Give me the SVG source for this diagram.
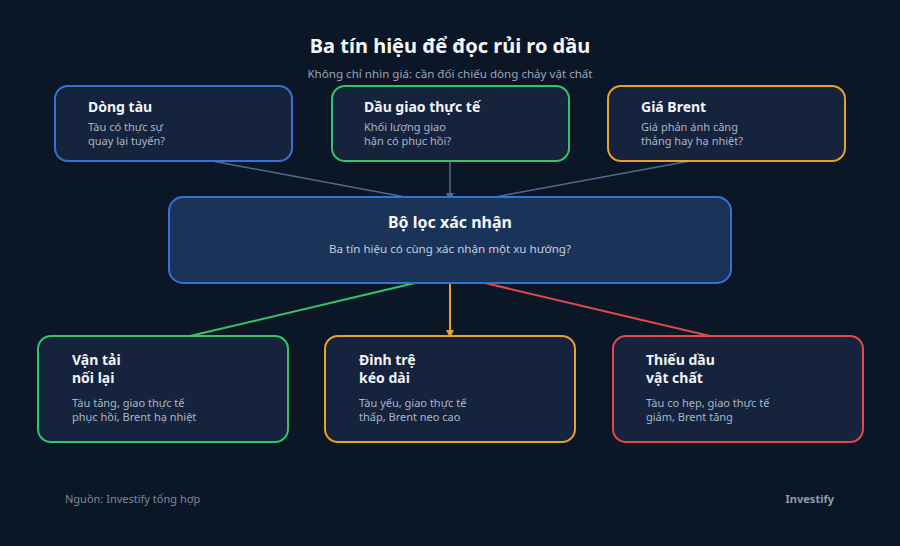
<svg xmlns="http://www.w3.org/2000/svg" width="900" height="546" viewBox="0 0 900 546">
<style>
text{font-family:"Noto Sans","DejaVu Sans",sans-serif}
.t{font-size:20px;font-weight:700;fill:#f4f6fa}
.st{font-size:11.6px;fill:#98a6b8}
.nt{font-size:14px;font-weight:700;fill:#f1f4f8}
.ns{font-size:11px;fill:#a9b6c6}
.box{fill:#15233d;stroke-width:2}
.ft{font-size:11px;fill:#7c8a9c}
.ftb{font-size:11px;font-weight:700;fill:#8e9cb0}
.c{fill:none;stroke-width:1.5}
</style>
<defs>
<marker id="ab" markerWidth="8" markerHeight="8" refX="4" refY="4" orient="auto" markerUnits="userSpaceOnUse"><path d="M0,0 L8,4 L0,8 z" fill="#4f6d8f"/></marker>
<marker id="ao" markerWidth="8" markerHeight="8" refX="6" refY="4" orient="auto" markerUnits="userSpaceOnUse"><path d="M0,0 L8,4 L0,8 z" fill="#e8a22a"/></marker>
</defs>
<rect width="900" height="546" fill="#0b1627"/>
<text class="t" x="450" y="53" text-anchor="middle">Ba tín hiệu để đọc rủi ro dầu</text>
<text class="st" x="450" y="78" text-anchor="middle">Không chỉ nhìn giá: cần đối chiếu dòng chảy vật chất</text>
<g id="connectors">
<line class="c" x1="212" y1="161" x2="405" y2="197" stroke="#4f6d8f"/>
<line class="c" x1="450" y1="161" x2="450" y2="197" stroke="#4f6d8f" marker-end="url(#ab)"/>
<line class="c" x1="690" y1="161" x2="495" y2="197" stroke="#4f6d8f"/>
<line x1="415" y1="283" x2="190" y2="336" stroke="#34c46a" stroke-width="2"/>
<line x1="450" y1="283" x2="450" y2="336" stroke="#e8a22a" stroke-width="2" marker-end="url(#ao)"/>
<line x1="485" y1="283" x2="710" y2="336" stroke="#e04a4f" stroke-width="2"/>
</g>
<g id="dong-tau">
<rect class="box" x="55" y="86" width="237" height="75" rx="13" stroke="#3572d8"/>
<text class="nt" x="88" y="112">Dòng tàu</text>
<text class="ns" x="88" y="131">Tàu có thực sự</text>
<text class="ns" x="88" y="145">quay lại tuyến?</text>
</g>
<g id="dau-giao">
<rect class="box" x="332" y="86" width="237" height="75" rx="13" stroke="#34c46a"/>
<text class="nt" x="364" y="112">Dầu giao thực tế</text>
<text class="ns" x="364" y="131">Khối lượng giao</text>
<text class="ns" x="364" y="145">hận có phục hồi?</text>
</g>
<g id="gia-brent">
<rect class="box" x="608" y="86" width="237" height="75" rx="13" stroke="#e8a22a"/>
<text class="nt" x="641" y="112">Giá Brent</text>
<text class="ns" x="641" y="131">Giá phản ánh căng</text>
<text class="ns" x="641" y="145">thẳng hay hạ nhiệt?</text>
</g>
<g id="bo-loc">
<rect x="169" y="197" width="562" height="86" rx="14" fill="#1a3459" stroke="#3572d8" stroke-width="2"/>
<text x="450" y="228" text-anchor="middle" style="font-size:16px;font-weight:700;fill:#f4f6fa">Bộ lọc xác nhận</text>
<text x="450" y="253" text-anchor="middle" style="font-size:11.6px;fill:#c3cfdd">Ba tín hiệu có cùng xác nhận một xu hướng?</text>
</g>
<g id="van-tai">
<rect class="box" x="38" y="336" width="250" height="106" rx="13" stroke="#34c46a"/>
<text class="nt" x="72" y="365">Vận tải</text>
<text class="nt" x="72" y="383">nối lại</text>
<text class="ns" x="72" y="407">Tàu tăng, giao thực tế</text>
<text class="ns" x="72" y="421">phục hồi, Brent hạ nhiệt</text>
</g>
<g id="dinh-tre">
<rect class="box" x="325" y="336" width="250" height="106" rx="13" stroke="#e8a22a"/>
<text class="nt" x="359" y="365">Đình trệ</text>
<text class="nt" x="359" y="383">kéo dài</text>
<text class="ns" x="359" y="407">Tàu yếu, giao thực tế</text>
<text class="ns" x="359" y="421">thấp, Brent neo cao</text>
</g>
<g id="thieu-dau">
<rect class="box" x="613" y="336" width="250" height="106" rx="13" stroke="#e04a4f"/>
<text class="nt" x="646" y="365">Thiếu dầu</text>
<text class="nt" x="646" y="383">vật chất</text>
<text class="ns" x="646" y="407">Tàu co hẹp, giao thực tế</text>
<text class="ns" x="646" y="421">giảm, Brent tăng</text>
</g>
<text class="ft" x="65" y="503">Nguồn: Investify tổng hợp</text>
<text class="ftb" x="834" y="503" text-anchor="end">Investify</text>
</svg>
